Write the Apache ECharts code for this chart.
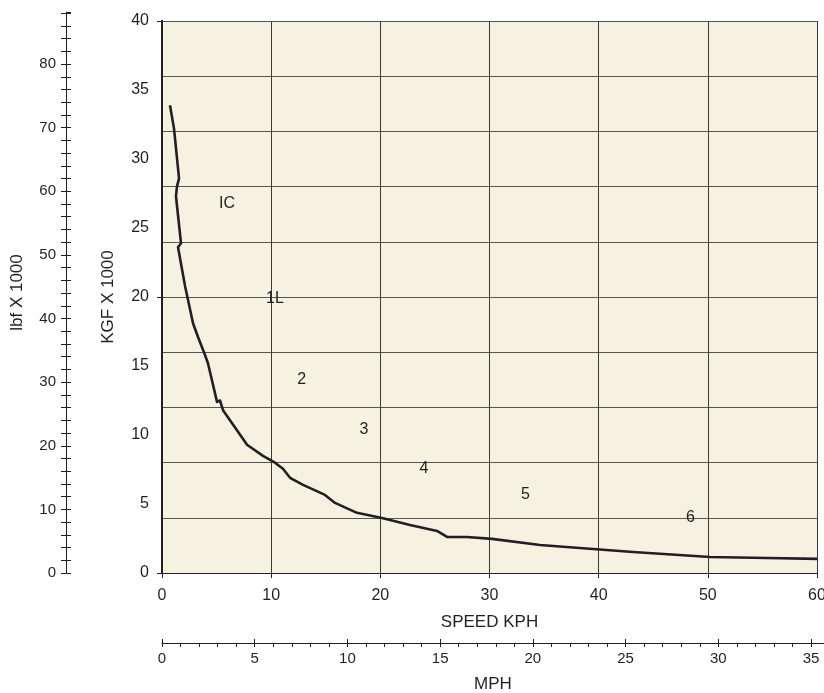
<!DOCTYPE html>
<html>
<head>
<meta charset="utf-8">
<script src="https://cdn.jsdelivr.net/npm/echarts@6/dist/echarts.min.js"></script>
<style>html,body{margin:0;padding:0;background:#fff;overflow:hidden}#c{width:824px;height:693px}</style>
</head>
<body>
<div id="c"></div>
<script>
// Tractive effort curve: speed (KPH) vs force (KGF x 1000)
const speedKph = [0.73, 1.10, 1.56, 1.37, 1.28, 1.74, 1.47, 2.11, 2.84, 3.30, 3.94, 4.21, 5.04, 5.31, 5.59, 7.79, 7.69, 9.25, 10.35, 11.08, 11.73, 12.92, 14.93, 15.85, 17.86, 20.15, 22.72, 25.19, 26.11, 27.94, 30.23, 34.63, 39.48, 43.15, 50.2, 55.4, 60.0];
const forceKgf = [33.9, 32.2, 28.6, 28.0, 27.3, 23.9, 23.6, 20.8, 18.1, 17.1, 15.8, 15.2, 12.4, 12.5, 11.8, 9.29, 9.15, 8.49, 7.99, 7.55, 6.90, 6.39, 5.66, 5.08, 4.36, 3.99, 3.48, 3.05, 2.61, 2.61, 2.47, 2.03, 1.74, 1.52, 1.16, 1.09, 1.02];

// Gear labels
const gearNames = ['IC', '1L', '2', '3', '4', '5', '6'];
const gearKph = [5.95, 10.35, 12.8, 18.5, 24.0, 33.3, 48.4];
const gearKgf = [26.8, 19.9, 14.0, 10.4, 7.6, 5.66, 4.0];

// Axis ranges / ticks
const kphMin = 0, kphMax = 60, kphStep = 10;
const kgfMin = 0, kgfMax = 40, kgfLabelStep = 5, kgfGridStep = 4;
const lbfMax = 88.18, lbfTickStep = 2, lbfLabelStep = 10;
const mphMax = 35.7, mphTickStep = 1, mphLabelStep = 5;

const FONT = '"Liberation Sans", Arial, sans-serif';
const INK = '#231f20';
const txt = (s) => ({fontFamily: FONT, fontSize: s, color: INK});

const chart = echarts.init(document.getElementById('c'), null, {renderer: 'canvas', width: 824, height: 693});
chart.setOption({
  animation: false,
  textStyle: {fontFamily: FONT},
  grid: [
    {left: 162, width: 655, top: 21, height: 552, show: true, backgroundColor: '#f6f2e2', borderWidth: 0,
     containLabel: false, outerBoundsMode: 'none'},
    {left: 66, width: 1, top: 12, height: 561, containLabel: false, outerBoundsMode: 'none'},
    {left: 162, width: 662, top: 642, height: 1, containLabel: false, outerBoundsMode: 'none'}
  ],
  xAxis: [
    {gridIndex: 0, type: 'value', min: kphMin, max: kphMax, interval: kphStep, position: 'bottom',
     axisLine: {show: true, lineStyle: {color: INK, width: 1}},
     axisTick: {show: true, length: 5, lineStyle: {color: INK}},
     axisLabel: Object.assign({margin: 15}, txt(16)),
     splitLine: {show: true, lineStyle: {color: '#3a3a3a', width: 1}},
     name: 'SPEED KPH', nameLocation: 'middle', nameGap: 41,
     nameTextStyle: txt(17)},
    {gridIndex: 0, type: 'value', min: kphMin, max: kphMax, interval: kphStep, position: 'top',
     axisLine: {show: true, lineStyle: {color: INK, width: 1}},
     axisTick: {show: false}, axisLabel: {show: false}, splitLine: {show: false}},
    {gridIndex: 1, type: 'value', show: false},
    {gridIndex: 2, type: 'value', min: 0, max: mphMax, interval: mphTickStep, position: 'bottom',
     axisLine: {show: true, lineStyle: {color: INK, width: 1}},
     axisTick: {show: true, length: 4, lineStyle: {color: INK}},
     axisLabel: Object.assign({margin: 8, showMaxLabel: false,
       formatter: v => (Math.abs(v % mphLabelStep) < 1e-6 ? String(v) : '')}, txt(15)),
     splitLine: {show: false},
     name: 'MPH', nameLocation: 'middle', nameGap: 33,
     nameTextStyle: txt(17)},
    {gridIndex: 2, type: 'value', min: 0, max: mphMax, interval: mphLabelStep, position: 'bottom',
     axisLine: {show: false},
     axisTick: {show: true, inside: true, length: 4, lineStyle: {color: INK}},
     axisLabel: {show: false}, splitLine: {show: false}}
  ],
  yAxis: [
    {gridIndex: 0, type: 'value', min: kgfMin, max: kgfMax, interval: kgfLabelStep, position: 'left',
     axisLine: {show: true, lineStyle: {color: INK, width: 2}},
     axisTick: {show: false},
     axisLabel: Object.assign({margin: 13}, txt(16)),
     splitLine: {show: false},
     name: 'KGF X 1000', nameLocation: 'middle', nameGap: 45,
     nameTextStyle: txt(17)},
    {gridIndex: 0, type: 'value', min: kgfMin, max: kgfMax, interval: kgfGridStep, position: 'right',
     axisLine: {show: true, lineStyle: {color: INK, width: 2}},
     axisTick: {show: false}, axisLabel: {show: false},
     splitLine: {show: true, lineStyle: {color: '#555', width: 1}}},
    {gridIndex: 0, type: 'value', min: kgfMin, max: kgfMax, interval: 20, position: 'left',
     axisLine: {show: false},
     axisTick: {show: true, length: 5, lineStyle: {color: INK}},
     axisLabel: {show: false}, splitLine: {show: false}},
    {gridIndex: 1, type: 'value', min: 0, max: lbfMax, interval: lbfTickStep, position: 'left',
     axisLine: {show: true, lineStyle: {color: INK, width: 1}},
     axisTick: {show: true, length: 5, lineStyle: {color: INK}},
     axisLabel: Object.assign({margin: 10, showMaxLabel: false,
       formatter: v => (Math.abs(v % lbfLabelStep) < 1e-6 ? String(v) : '')}, txt(15)),
     splitLine: {show: false},
     name: 'lbf X 1000', nameLocation: 'middle', nameGap: 40,
     nameTextStyle: txt(17)},
    {gridIndex: 1, type: 'value', min: 0, max: lbfMax, interval: lbfTickStep, position: 'left',
     axisLine: {show: false},
     axisTick: {show: true, inside: true, length: 5, lineStyle: {color: INK}},
     axisLabel: {show: false}, splitLine: {show: false}},
    {gridIndex: 2, type: 'value', show: false}
  ],
  series: [
    {type: 'line', xAxisIndex: 0, yAxisIndex: 0, showSymbol: false, symbol: 'none',
     data: speedKph.map((x, i) => [x, forceKgf[i]]),
     lineStyle: {color: INK, width: 2.6, join: 'round'}, z: 5},
    {type: 'scatter', xAxisIndex: 0, yAxisIndex: 0, symbolSize: 0,
     itemStyle: {opacity: 1},
     data: gearKph.map((x, i) => ({value: [x, gearKgf[i]], name: gearNames[i]})),
     label: Object.assign({show: true, position: 'inside', opacity: 1, formatter: p => p.name}, txt(16)), z: 6}
  ]
});
</script>
</body>
</html>
